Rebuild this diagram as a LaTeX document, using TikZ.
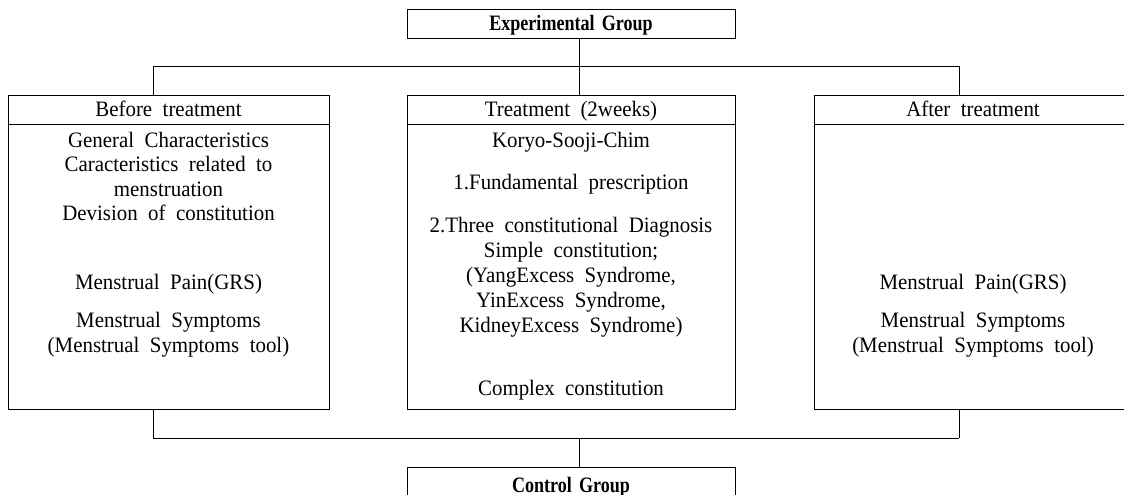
\documentclass[tikz,border=0pt]{standalone}
\usepackage{fontspec}
\setmainfont{Liberation Serif}[FakeStretch=0.95, WordSpace=2.0]
\newfontfamily\grpfont{Liberation Serif}[FakeStretch=0.82, WordSpace=1.6]
\begin{document}
\begin{tikzpicture}[x=1pt,y=-1pt, line width=0.9pt,
  box/.style={draw, rectangle, inner sep=0pt, anchor=north west},
  txt/.style={anchor=base, inner sep=0pt, font=\fontsize{22}{26}\selectfont},
  grp/.style={anchor=base, inner sep=0pt, font=\grpfont\bfseries\fontsize{22}{26}\selectfont}]
\useasboundingbox (0,0) rectangle (1124,495);
\clip (0,0) rectangle (1124,495);
% boxes
\node[box, minimum width=328pt, minimum height=29pt] (exp) at (407,9) {};
\node[box, minimum width=321pt, minimum height=314pt] (before) at (8,95) {};
\node[box, minimum width=328pt, minimum height=314pt] (treat) at (407,95) {};
\node[box, minimum width=318pt, minimum height=314pt] (after) at (814,95) {};
\node[box, minimum width=328pt, minimum height=40pt] (ctrl) at (407,467) {};
% header lines
\draw ([yshift=-29pt]before.north west) -- ([yshift=-29pt]before.north east);
\draw ([yshift=-29pt]treat.north west) -- ([yshift=-29pt]treat.north east);
\draw ([yshift=-29pt]after.north west) -- ([yshift=-29pt]after.north east);
% connectors
\coordinate (tl) at (153,66);
\coordinate (tr) at (959,66);
\coordinate (tm) at (579,66);
\coordinate (bl) at (153,438);
\coordinate (br) at (959,438);
\coordinate (bm) at (579,438);
\draw (tl) -- (tr);
\draw (tm |- exp.south) -- (tm);
\draw (tl) -- (tl |- before.north);
\draw (tm) -- (tm |- treat.north);
\draw (tr) -- (tr |- after.north);
\draw (bl) -- (br);
\draw (bl) -- (bl |- before.south);
\draw (br) -- (br |- after.south);
\draw (bm) -- (bm |- ctrl.north);
% group labels
\node[grp] (expt) at (571,31) {Experimental Group};
\node[grp] (ctrlt) at (571,492) {Control Group};
% headers
\node[txt] (h1) at (168.5,116) {Before treatment};
\node[txt] (h2) at (571,116) {Treatment (2weeks)};
\node[txt] (h3) at (973,116) {After treatment};
% left box
\node[txt] (l1) at (168.5,147) {General Characteristics};
\node[txt] (l2) at (168.5,171.5) {Caracteristics related to};
\node[txt] (l3) at (168.5,196) {menstruation};
\node[txt] (l4) at (168.5,220.5) {Devision of constitution};
\node[txt] (l5) at (168.5,289.5) {Menstrual Pain(GRS)};
\node[txt] (l6) at (168.5,327) {Menstrual Symptoms};
\node[txt] (l7) at (168.5,352) {(Menstrual Symptoms tool)};
% middle box
\node[txt] (m1) at (571,147) {Koryo-Sooji-Chim};
\node[txt] (m2) at (571,189.5) {1.Fundamental prescription};
\node[txt] (m3) at (571,232) {2.Three constitutional Diagnosis};
\node[txt] (m4) at (571,257) {Simple constitution;};
\node[txt] (m5) at (571,282) {(YangExcess Syndrome,};
\node[txt] (m6) at (571,307) {YinExcess Syndrome,};
\node[txt] (m7) at (571,332) {KidneyExcess Syndrome)};
\node[txt] (m8) at (571,395.5) {Complex constitution};
% right box
\node[txt] (r1) at (973,289.5) {Menstrual Pain(GRS)};
\node[txt] (r2) at (973,327) {Menstrual Symptoms};
\node[txt] (r3) at (973,352) {(Menstrual Symptoms tool)};
\end{tikzpicture}
\end{document}
